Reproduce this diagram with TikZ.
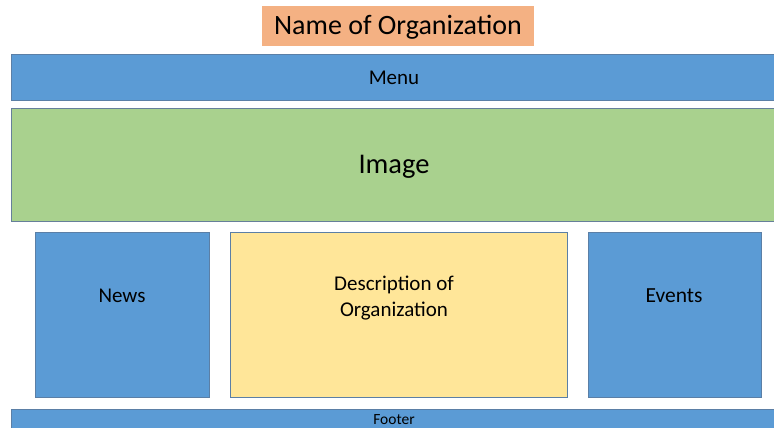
\documentclass[tikz,border=0pt]{standalone}
\usepackage{fontspec}
\setmainfont{Carlito}
\definecolor{blu}{HTML}{5B9BD5}
\definecolor{grn}{HTML}{A9D18E}
\definecolor{yel}{HTML}{FFE699}
\definecolor{org}{HTML}{F4B183}
\definecolor{edge}{HTML}{5B7FA6}
\begin{document}
\begin{tikzpicture}[x=1pt,y=-1pt,
  box/.style={draw=edge,line width=0.8pt},
  lbl/.style={inner sep=0pt,text=black,align=center}]
\useasboundingbox (0,0) rectangle (774,428);
\fill[white] (0,0) rectangle (774,428);
% title
\fill[org] (262,6) rectangle (534,46);
\node[lbl,font=\fontsize{28}{32}\selectfont] (title) at (398,27) {Name of Organization};
\begin{scope}
\clip (0,0) rectangle (774,428);
\draw[box,fill=blu] (11,54) rectangle (780,100);
\draw[box,fill=grn,draw=edge!70!gray] (11,108) rectangle (780,221);
\draw[box,fill=blu] (11,409) rectangle (780,440);
\end{scope}
\node[lbl,font=\fontsize{21}{24}\selectfont] (menu) at (394,78) {Menu};
\node[lbl,font=\fontsize{28.5}{32}\selectfont] (image) at (394,167) {Image};
\node[lbl,font=\fontsize{15.5}{18}\selectfont] (footer) at (394,420) {Footer};
% columns
\draw[box,fill=blu] (35,232) rectangle (209,397);
\node[lbl,font=\fontsize{21}{24}\selectfont] (news) at (122,296) {News};
\draw[box,fill=yel] (230,232) rectangle (567,397);
\node[lbl,font=\fontsize{21}{26}\selectfont] (desc) at (394,298) {Description of\\Organization};
\draw[box,fill=blu] (588,232) rectangle (761,397);
\node[lbl,font=\fontsize{21.5}{24}\selectfont] (events) at (674,296) {Events};
\end{tikzpicture}
\end{document}
